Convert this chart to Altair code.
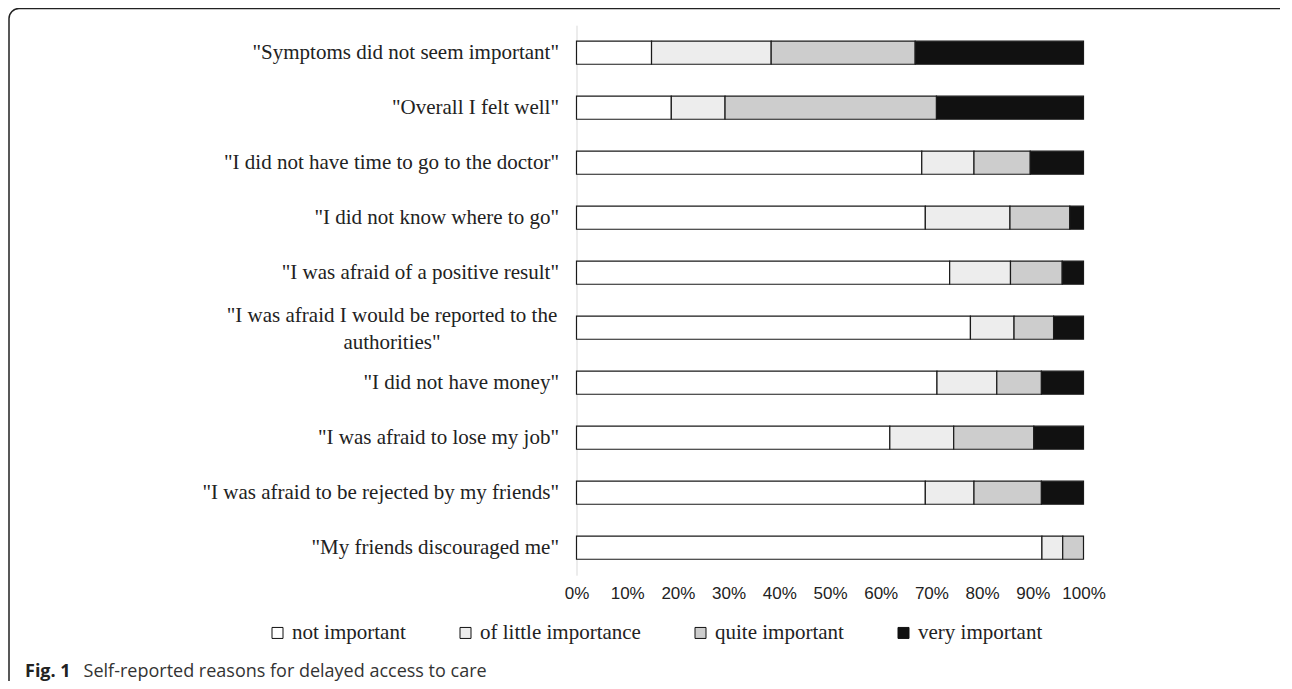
import altair as alt
import pandas as pd

reasons = [
    '"Symptoms did not seem important"',
    '"Overall I felt well"',
    '"I did not have time to go to the doctor"',
    '"I did not know where to go"',
    '"I was afraid of a positive result"',
    '"I was afraid I would be reported to the authorities"',
    '"I did not have money"',
    '"I was afraid to lose my job"',
    '"I was afraid to be rejected by my friends"',
    '"My friends discouraged me"',
]
wrapped_reason = reasons[5]
wrapped_lines = '"I was afraid I would be reported to the\nauthorities"'
levels = ["not important", "of little importance", "quite important", "very important"]
not_important = [14.8, 18.7, 68.1, 68.8, 73.6, 77.7, 71.1, 61.8, 68.8, 91.8]
little_importance = [23.6, 10.6, 10.3, 16.7, 12.0, 8.6, 11.8, 12.6, 9.6, 4.1]
quite_important = [28.4, 41.7, 11.1, 11.8, 10.2, 7.8, 8.8, 15.8, 13.3, 4.1]
very_important = [33.2, 29.0, 10.5, 2.7, 4.2, 5.9, 8.3, 9.8, 8.3, 0.0]
x_ticks = [0, 0.1, 0.2, 0.3, 0.4, 0.5, 0.6, 0.7, 0.8, 0.9, 1.0]
level_colors = ["#ffffff", "#ededed", "#cdcdcd", "#111111"]
caption_bold = "Fig. 1"
caption_text = "Self-reported reasons for delayed access to care"

rows = []
for i, r in enumerate(reasons):
    for j, (lvl, series) in enumerate(zip(levels, [not_important, little_importance, quite_important, very_important])):
        if series[i] > 0:
            rows.append({"reason": r, "level": lvl, "order": j, "value": series[i]})
df = pd.DataFrame(rows)

label_expr = "indexof(datum.label, 'authorities') >= 0 ? '' : datum.label"


def y_enc():
    return alt.Y(
        "reason:N",
        sort=reasons,
        title=None,
        scale=alt.Scale(domain=reasons, paddingInner=0.58, paddingOuter=0.29),
        axis=alt.Axis(
            labelExpr=label_expr,
            labelFont="Liberation Serif",
            labelFontSize=21,
            labelColor="#222222",
            labelLimit=700,
            labelPadding=18,
            ticks=False,
            domainColor="#d9d9d9",
            domainWidth=1,
        ),
    )


bars = alt.Chart(df).mark_bar(stroke="#1a1a1a", strokeWidth=1.2).encode(
    y=y_enc(),
    x=alt.X(
        "value:Q",
        stack="normalize",
        title=None,
        scale=alt.Scale(domain=[0, 1]),
        axis=alt.Axis(
            values=x_ticks,
            format=".0%",
            labelFont="Liberation Sans",
            labelFontSize=17,
            labelColor="#222222",
            labelPadding=10,
            ticks=False,
            domain=False,
            grid=False,
            labelFlush=False,
        ),
    ),
    color=alt.Color(
        "level:N",
        sort=levels,
        scale=alt.Scale(domain=levels, range=level_colors),
        legend=alt.Legend(
            title=None,
            orient="none",
            direction="horizontal",
            legendX=-309.5,
            legendY=597,
            labelFont="Liberation Serif",
            labelFontSize=21,
            labelColor="#222222",
            labelLimit=400,
            symbolType="square",
            symbolSize=121,
            symbolStrokeColor="#111111",
            symbolStrokeWidth=1,
            labelOffset=4,
            columnPadding=49,
        ),
    ),
    order=alt.Order("order:Q"),
)

wrapped = alt.Chart(pd.DataFrame({"reason": [wrapped_reason], "t": [wrapped_lines]})).mark_text(
    align="center", baseline="middle", font="Liberation Serif", fontSize=21,
    color="#222222", lineBreak="\n", lineHeight=27, dy=-12
).encode(
    y=y_enc(),
    text="t:N",
    x=alt.value(-184.5),
)

frame = alt.Chart(pd.DataFrame({"f": [0]})).mark_rect(
    fillOpacity=0, stroke="#222222", strokeWidth=1.5, cornerRadius=10
).encode(
    x=alt.value(-567.5), x2=alt.value(718), y=alt.value(-16.7), y2=alt.value(680)
)

cap1 = alt.Chart(pd.DataFrame({"t": [caption_bold]})).mark_text(
    align="left", baseline="middle", font="Open Sans", fontSize=18, fontWeight="bold", color="#222222"
).encode(text="t:N", x=alt.value(-551.5), y=alt.value(646.3))

cap2 = alt.Chart(pd.DataFrame({"t": [caption_text]})).mark_text(
    align="left", baseline="middle", font="Open Sans", fontSize=18, color="#333333"
).encode(text="t:N", x=alt.value(-492.9), y=alt.value(646.3))

chart = alt.layer(frame, bars, wrapped, cap1, cap2).properties(
    width=507,
    height=550,
    padding={"left": 568.5, "top": 17.2, "right": 196, "bottom": 105.3},
    autosize=alt.AutoSizeParams(type="none"),
    background="white",
).configure_view(stroke=None)

chart.save("out.html", embed_options={"renderer": "svg", "actions": False})
